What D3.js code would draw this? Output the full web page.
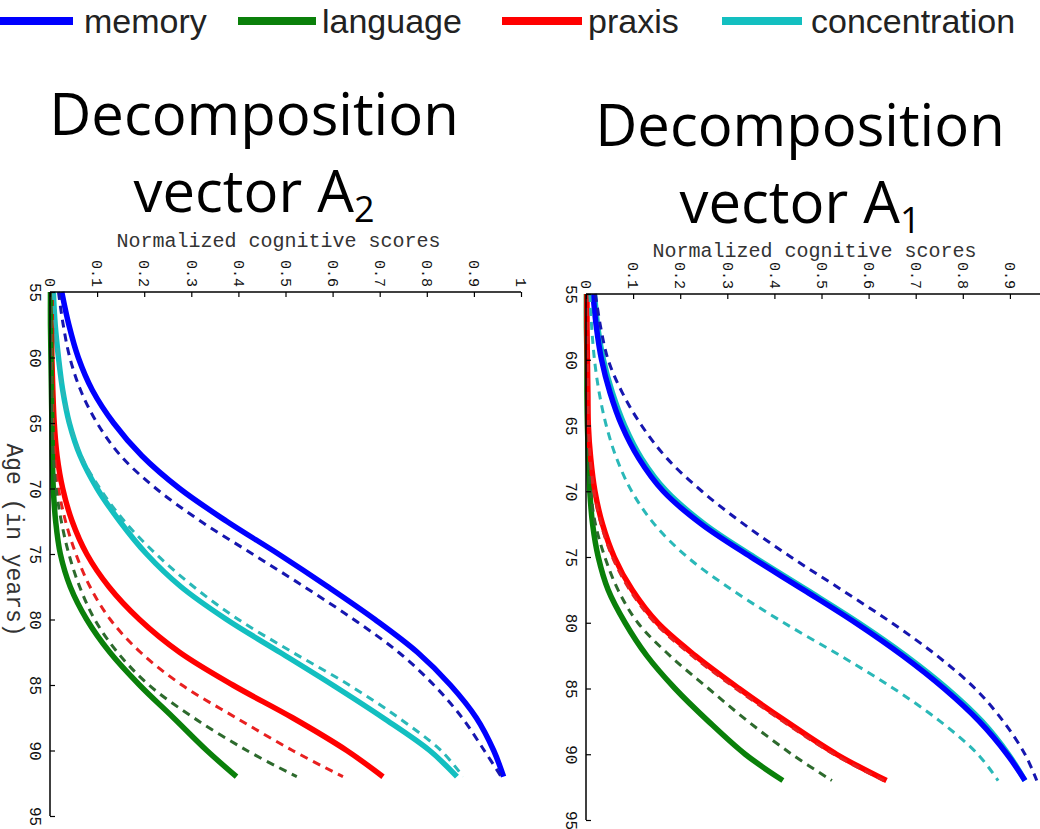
<!DOCTYPE html>
<html>
<head>
<meta charset="utf-8">
<script src="https://cdn.jsdelivr.net/npm/d3@7"></script>
<style>
  html, body { margin: 0; padding: 0; background: #fff; }
  svg { display: block; }
</style>
</head>
<body>
<svg id="chart" width="1040" height="829"></svg>
<script>
// Age grid (years) shared by every curve
const ages = [55, 57.5, 60, 62.5, 65, 67.5, 70, 72.5, 75, 77.5, 80, 82.5, 85, 87.5, 90, 92];

// Axis ticks
const ageTicks = [55, 60, 65, 70, 75, 80, 85, 90, 95];
const scoreTicks = [0, 0.1, 0.2, 0.3, 0.4, 0.5, 0.6, 0.7, 0.8, 0.9, 1];

// Legend
const domains = ["memory", "language", "praxis", "concentration"];

// Decomposition vector A2 (solid and dashed curve per domain)
const a2Memory        = [0.025, 0.040, 0.060, 0.090, 0.135, 0.195, 0.275, 0.375, 0.485, 0.590, 0.690, 0.780, 0.850, 0.905, 0.942, 0.963];
const a2MemoryDash    = [0.018, 0.028, 0.042, 0.065, 0.100, 0.150, 0.225, 0.320, 0.430, 0.540, 0.645, 0.740, 0.815, 0.875, 0.922, 0.958];
const a2Language      = [0.001, 0.001, 0.002, 0.003, 0.004, 0.005, 0.007, 0.012, 0.022, 0.043, 0.078, 0.127, 0.190, 0.262, 0.333, 0.396];
const a2LanguageDash  = [0.001, 0.001, 0.002, 0.003, 0.004, 0.007, 0.013, 0.024, 0.040, 0.063, 0.095, 0.143, 0.210, 0.305, 0.418, 0.524];
const a2Praxis        = [0.002, 0.003, 0.004, 0.006, 0.009, 0.015, 0.027, 0.047, 0.078, 0.125, 0.190, 0.275, 0.388, 0.515, 0.630, 0.707];
const a2PraxisDash    = [0.001, 0.002, 0.003, 0.004, 0.006, 0.010, 0.018, 0.033, 0.055, 0.085, 0.128, 0.192, 0.280, 0.395, 0.515, 0.622];
const a2Concentr      = [0.007, 0.011, 0.018, 0.027, 0.041, 0.064, 0.100, 0.148, 0.205, 0.278, 0.375, 0.488, 0.600, 0.707, 0.806, 0.864];
const a2ConcentrDash  = [0.007, 0.011, 0.018, 0.027, 0.042, 0.066, 0.106, 0.158, 0.225, 0.305, 0.400, 0.515, 0.635, 0.740, 0.830, 0.877];

// Decomposition vector A1
const a1Memory        = [0.015, 0.022, 0.033, 0.051, 0.076, 0.112, 0.164, 0.245, 0.350, 0.462, 0.572, 0.672, 0.760, 0.835, 0.894, 0.932];
const a1MemoryDash    = [0.020, 0.031, 0.047, 0.077, 0.118, 0.172, 0.246, 0.335, 0.435, 0.543, 0.649, 0.745, 0.826, 0.886, 0.932, 0.957];
const a1Language      = [0.001, 0.001, 0.002, 0.002, 0.003, 0.005, 0.008, 0.014, 0.026, 0.047, 0.083, 0.129, 0.189, 0.260, 0.338, 0.418];
const a1LanguageDash  = [0.001, 0.001, 0.002, 0.003, 0.004, 0.006, 0.010, 0.020, 0.040, 0.068, 0.110, 0.178, 0.260, 0.344, 0.437, 0.522];
const a1Praxis        = [0.002, 0.002, 0.003, 0.004, 0.005, 0.010, 0.019, 0.035, 0.060, 0.098, 0.152, 0.232, 0.325, 0.425, 0.532, 0.638];
const a1PraxisDash    = [0.001, 0.002, 0.003, 0.004, 0.005, 0.009, 0.017, 0.032, 0.056, 0.093, 0.146, 0.225, 0.318, 0.418, 0.526, 0.632];
const a1Concentr      = [0.018, 0.025, 0.037, 0.056, 0.082, 0.118, 0.171, 0.252, 0.357, 0.469, 0.579, 0.679, 0.767, 0.841, 0.897, 0.932];
const a1ConcentrDash  = [0.008, 0.012, 0.018, 0.028, 0.043, 0.065, 0.097, 0.145, 0.215, 0.310, 0.420, 0.540, 0.653, 0.752, 0.832, 0.875];

const solidColor = { memory: "#0000ff", language: "#0a800a", praxis: "#ff0000", concentration: "#13bfc0" };
const dashColor  = { memory: "#1616b0", language: "#2d6a2d", praxis: "#e82020", concentration: "#2ab8b8" };

const svg = d3.select("#chart");
const mono = "'Liberation Mono', 'Courier New', monospace";
const W = 1040;

// ---- Legend ----
const legendItems = [
  { name: domains[0], x0: 0,   x1: 73,  tx: 84 },
  { name: domains[1], x0: 238, x1: 316, tx: 322 },
  { name: domains[2], x0: 502, x1: 582, tx: 588 },
  { name: domains[3], x0: 722, x1: 802, tx: 811 }
];
const lg = svg.append("g");
legendItems.forEach(d => {
  lg.append("line").attr("x1", d.x0).attr("x2", d.x1).attr("y1", 21).attr("y2", 21)
    .attr("stroke", solidColor[d.name]).attr("stroke-width", 8);
  lg.append("text").attr("x", d.tx).attr("y", 33)
    .attr("font-family", "'Liberation Sans', Arial, sans-serif").attr("font-size", 34)
    .attr("fill", "#222").text(d.name);
});

// ---- Panels ----
const panels = [
  {
    sub: "2", subDy: 10, titleX: 254, titleY1: 135, titleY2: 212,
    xr: [50, 521], yr: [292, 816], labelY: 247, ageLabel: true,
    solid: { memory: a2Memory, language: a2Language, praxis: a2Praxis, concentration: a2Concentr },
    dash:  { memory: a2MemoryDash, language: a2LanguageDash, praxis: a2PraxisDash, concentration: a2ConcentrDash },
    order: ["concentration", "memory", "praxis", "language"]
  },
  {
    sub: "1", subDy: 10, titleX: 800, titleY1: 146, titleY2: 223,
    xr: [586, 1057], yr: [294, 820], labelY: 257, ageLabel: false,
    solid: { memory: a1Memory, language: a1Language, praxis: a1Praxis, concentration: a1Concentr },
    dash:  { memory: a1MemoryDash, language: a1LanguageDash, praxis: a1PraxisDash, concentration: a1ConcentrDash },
    order: ["language", "praxis", "concentration", "memory"]
  }
];

panels.forEach(p => {
  const x = d3.scaleLinear().domain([0, 1]).range(p.xr);
  const y = d3.scaleLinear().domain([55, 95]).range(p.yr);
  const g = svg.append("g");

  // Panel title
  const titleFont = "'Open Sans', 'Noto Sans', sans-serif";
  g.append("text").attr("text-anchor", "middle").attr("font-family", titleFont)
    .attr("font-size", 58).attr("fill", "#000")
    .attr("x", p.titleX).attr("y", p.titleY1).text("Decomposition");
  const t2 = g.append("text").attr("text-anchor", "middle").attr("font-family", titleFont)
    .attr("font-size", 58).attr("fill", "#000").attr("x", p.titleX).attr("y", p.titleY2);
  t2.append("tspan").text("vector A");
  t2.append("tspan").attr("font-size", 36).attr("dy", p.subDy).text(p.sub);

  // Score axis title
  g.append("text").attr("x", p.xr[0] + 471 * 0.485).attr("y", p.labelY)
    .attr("text-anchor", "middle").attr("font-family", mono).attr("font-size", 20)
    .attr("fill", "#333").text("Normalized cognitive scores");

  // Curves: score on x, age on y
  const line = series => d3.line()
    .x((d, i) => x(series[i]))
    .y(d => y(d))
    .curve(d3.curveCatmullRom.alpha(0.5))(ages);

  p.order.forEach(name => {
    g.append("path").attr("d", line(p.solid[name])).attr("fill", "none")
      .attr("stroke", solidColor[name]).attr("stroke-width", 5.5);
  });
  p.order.forEach(name => {
    g.append("path").attr("d", line(p.dash[name])).attr("fill", "none")
      .attr("stroke", dashColor[name]).attr("stroke-width", 3)
      .attr("stroke-dasharray", "8,6");
  });

  // Top score axis: inward ticks, labels rotated to read downward
  const visibleScores = scoreTicks.filter(d => x(d) <= W - 4);
  const topAxis = d3.axisTop(x).tickValues(visibleScores).tickSize(-5)
    .tickFormat(d => d === 0 ? "0" : (d === 1 ? "1" : d3.format(".1f")(d)));
  const ta = g.append("g").attr("transform", `translate(0,${p.yr[0]})`).call(topAxis);
  ta.select(".domain").attr("stroke", "#000").attr("stroke-width", 1.5)
    .attr("d", `M${p.xr[0]},0H${Math.min(p.xr[1], W)}`);
  ta.selectAll(".tick line").attr("stroke", "#000").attr("stroke-width", 1.2);
  ta.selectAll(".tick text")
    .attr("font-family", mono).attr("font-size", 15).attr("fill", "#111")
    .attr("text-anchor", "end").attr("x", 0).attr("y", 0).attr("dy", "0.35em")
    .attr("transform", "translate(0,-5) rotate(90)");

  // Left age axis
  const leftAxis = d3.axisLeft(y).tickValues(ageTicks).tickSize(-5).tickFormat(d3.format("d"));
  const la = g.append("g").attr("transform", `translate(${p.xr[0]},0)`).call(leftAxis);
  la.select(".domain").attr("stroke", "#000").attr("stroke-width", 1.5)
    .attr("d", `M0,${p.yr[0]}V${p.yr[1]}`);
  la.selectAll(".tick line").attr("stroke", "#000").attr("stroke-width", 1.2);
  la.selectAll(".tick text")
    .attr("font-family", mono).attr("font-size", 16).attr("fill", "#111")
    .attr("text-anchor", "middle").attr("x", 0).attr("y", 0).attr("dy", "0.35em")
    .attr("transform", "translate(-14,0) rotate(90)");

  if (p.ageLabel) {
    g.append("text").attr("transform", `translate(15,${(p.yr[0] + p.yr[1]) / 2 - 14}) rotate(90)`)
      .attr("text-anchor", "middle").attr("dy", "0.35em")
      .attr("font-family", mono).attr("font-size", 23).attr("fill", "#333")
      .text("Age (in years)");
  }
});
</script>
</body>
</html>
